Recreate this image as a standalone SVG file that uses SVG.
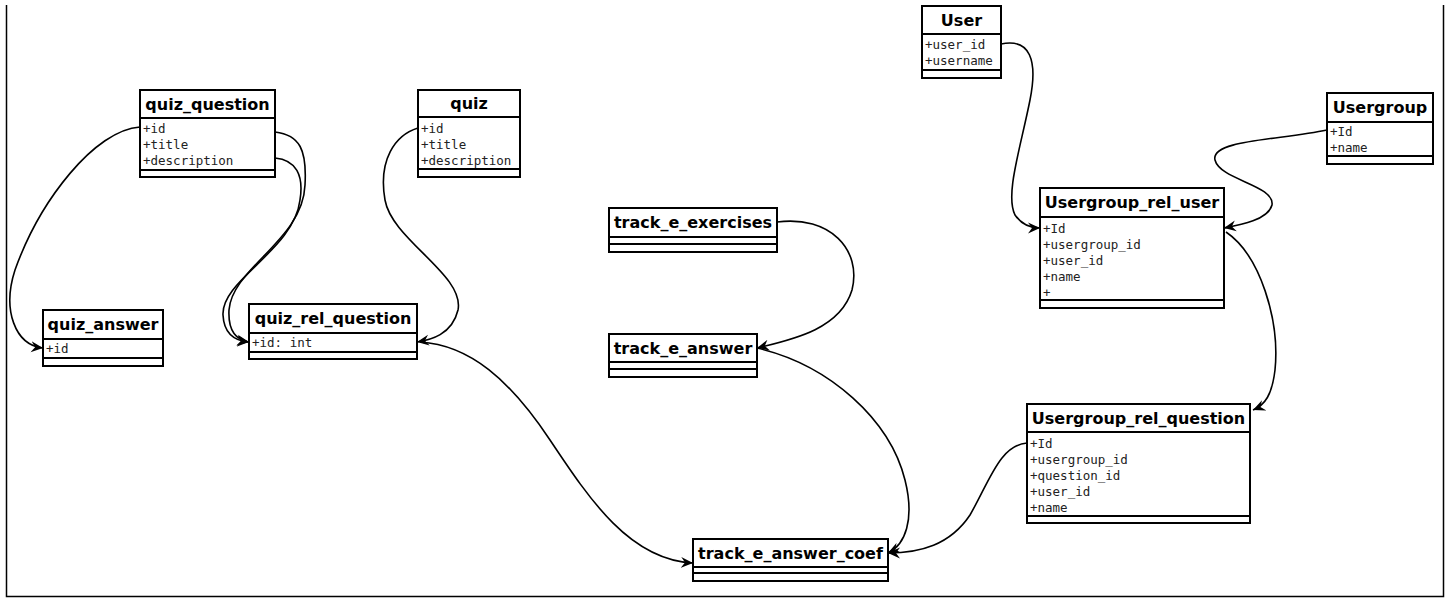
<svg xmlns="http://www.w3.org/2000/svg" width="1451" height="598" viewBox="0 0 1451 598">
<defs>
<marker id="arr" markerUnits="userSpaceOnUse" markerWidth="14" markerHeight="12" refX="12" refY="6" orient="auto">
<path d="M0,0.5 L12,6 L0,11.5 L4,6 Z" fill="#000"/>
</marker>
</defs>
<style>
.box{fill:#fff;stroke:#000;stroke-width:2}
.ln{stroke:#000;stroke-width:2;fill:none}
.hd{font-family:"DejaVu Sans",sans-serif;font-weight:bold;font-size:16px;text-anchor:middle;fill:#000}
.at{font-family:"DejaVu Sans Mono",monospace;font-size:12.5px;fill:#222}
.cn{fill:none;stroke:#000;stroke-width:1.6;marker-end:url(#arr)}
</style>
<rect width="1451" height="598" fill="#fff"/>
<path d="M6.5,5 V596.5 H1443.5 V5" fill="none" stroke="#000" stroke-width="1.5"/>

<g id="connectors">
<path class="cn" d="M140,127 C95,130 40,200 15,270 C2,310 15,345 43,348"/>
<path class="cn" d="M275,132 C300,135 307,150 305,185 C303,240 232,268 229,310 C228,330 236,340 249,342"/>
<path class="cn" d="M275,158 C296,160 304,175 300,200 C294,250 221,280 223,315 C224,335 236,341 249,342"/>
<path class="cn" d="M418,128 C395,135 378,160 385,200 C392,240 465,275 458,310 C452,335 430,340 417,342"/>
<path class="cn" d="M420,342 C470,345 510,380 550,440 C590,500 630,560 693,563"/>
<path class="cn" d="M777,222 C830,215 862,250 852,290 C840,330 790,340 757,348"/>
<path class="cn" d="M757,348 C830,365 890,420 905,480 C915,520 905,545 888,553"/>
<path class="cn" d="M1027,443 C1000,445 990,480 970,515 C950,545 920,553 888,553"/>
<path class="cn" d="M1001,44 C1030,38 1038,60 1030,100 C1020,150 1005,195 1015,215 C1022,225 1030,228 1040,228"/>
<path class="cn" d="M1327,130 C1280,140 1210,140 1215,160 C1220,180 1275,185 1272,205 C1268,220 1240,225 1224,228"/>
<path class="cn" d="M1226,232 C1260,255 1280,320 1275,370 C1272,395 1265,405 1253,410"/>
<path d="M1130,459.5 L1142,465 L1130,470.5 L1134,465 Z" fill="#000"/>
</g>

<g id="quiz_question">
<rect class="box" x="140" y="90" width="135" height="87"/>
<path class="ln" d="M140,118 H275 M140,170 H275"/>
<text class="hd" x="207.5" y="109.5">quiz_question</text>
<text class="at" x="143" y="132.5">+id</text>
<text class="at" x="143" y="148.5">+title</text>
<text class="at" x="143" y="164.5">+description</text>
</g>

<g id="quiz">
<rect class="box" x="418" y="90" width="102" height="87"/>
<path class="ln" d="M418,117 H520 M418,169 H520"/>
<text class="hd" x="469" y="109">quiz</text>
<text class="at" x="421" y="132.5">+id</text>
<text class="at" x="421" y="148.5">+title</text>
<text class="at" x="421" y="164.5">+description</text>
</g>

<g id="quiz_answer">
<rect class="box" x="43" y="310" width="120" height="56"/>
<path class="ln" d="M43,339 H163 M43,358 H163"/>
<text class="hd" x="103" y="330">quiz_answer</text>
<text class="at" x="46" y="352.5">+id</text>
</g>

<g id="quiz_rel_question">
<rect class="box" x="249" y="304" width="168" height="55"/>
<path class="ln" d="M249,333 H417 M249,352 H417"/>
<text class="hd" x="333" y="324">quiz_rel_question</text>
<text class="at" x="252" y="346.5">+id: int</text>
</g>

<g id="track_e_exercises">
<rect class="box" x="609" y="208" width="168" height="44"/>
<path class="ln" d="M609,237 H777 M609,244 H777"/>
<text class="hd" x="693" y="228">track_e_exercises</text>
</g>

<g id="track_e_answer">
<rect class="box" x="609" y="334" width="148" height="43"/>
<path class="ln" d="M609,362 H757 M609,369 H757"/>
<text class="hd" x="683" y="354">track_e_answer</text>
</g>

<g id="track_e_answer_coef">
<rect class="box" x="693" y="539" width="195" height="42"/>
<path class="ln" d="M693,567 H888 M693,573 H888"/>
<text class="hd" x="790.5" y="559">track_e_answer_coef</text>
</g>

<g id="User">
<rect class="box" x="922" y="6" width="79" height="72"/>
<path class="ln" d="M922,34 H1001 M922,70 H1001"/>
<text class="hd" x="961.5" y="25.5">User</text>
<text class="at" x="925" y="48.5">+user_id</text>
<text class="at" x="925" y="64.5">+username</text>
</g>

<g id="Usergroup">
<rect class="box" x="1327" y="93" width="106" height="71"/>
<path class="ln" d="M1327,122 H1433 M1327,156 H1433"/>
<text class="hd" x="1380" y="113">Usergroup</text>
<text class="at" x="1330" y="135.5">+Id</text>
<text class="at" x="1330" y="151.5">+name</text>
</g>

<g id="Usergroup_rel_user">
<rect class="box" x="1040" y="188" width="184" height="120"/>
<path class="ln" d="M1040,217 H1224 M1040,300 H1224"/>
<text class="hd" x="1132" y="208">Usergroup_rel_user</text>
<text class="at" x="1043" y="232.5">+Id</text>
<text class="at" x="1043" y="248.5">+usergroup_id</text>
<text class="at" x="1043" y="264.5">+user_id</text>
<text class="at" x="1043" y="280.5">+name</text>
<text class="at" x="1043" y="296.5">+</text>
</g>

<g id="Usergroup_rel_question">
<rect class="box" x="1027" y="404" width="223" height="119"/>
<path class="ln" d="M1027,432 H1250 M1027,516 H1250"/>
<text class="hd" x="1138.5" y="424">Usergroup_rel_question</text>
<text class="at" x="1030" y="447.5">+Id</text>
<text class="at" x="1030" y="463.5">+usergroup_id</text>
<text class="at" x="1030" y="479.5">+question_id</text>
<text class="at" x="1030" y="495.5">+user_id</text>
<text class="at" x="1030" y="511.5">+name</text>
</g>
</svg>
